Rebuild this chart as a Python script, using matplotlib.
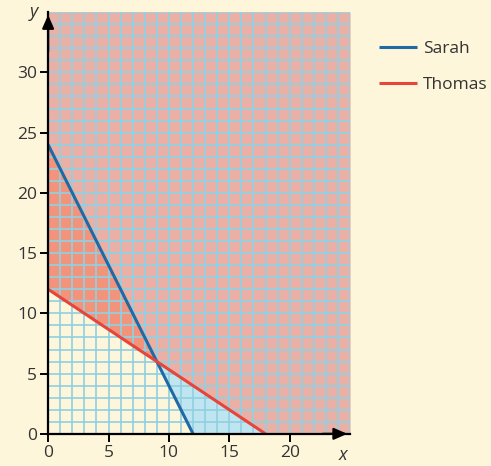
import matplotlib
matplotlib.use("Agg")
import matplotlib.pyplot as plt
import numpy as np

# Constraint lines: y = intercept + slope * x
names = ["Sarah", "Thomas"]
y_intercepts = [24, 12]
x_intercepts = [12, 18]
line_colors = ["#1f6aa5", "#e8453a"]

x_ticks = [0, 5, 10, 15, 20]
y_ticks = [0, 5, 10, 15, 20, 25, 30]
x_max, y_max = 25, 35

bg = "#fdf6da"
plt.rcParams["font.family"] = ["Open Sans", "DejaVu Sans"]

fig = plt.figure(figsize=(4.91, 4.66), dpi=100, facecolor=bg)
ax = fig.add_axes([0.098, 0.069, 0.615, 0.905], facecolor=bg)
ax.set_xlim(0, x_max)
ax.set_ylim(0, y_max)

xs = np.linspace(0, x_max, 501)
sarah = y_intercepts[0] - y_intercepts[0] / x_intercepts[0] * xs
thomas = y_intercepts[1] - y_intercepts[1] / x_intercepts[1] * xs
upper = np.maximum(np.maximum(sarah, thomas), 0)

# region above both lines
ax.fill_between(xs, upper, y_max, color="#eaafa5", lw=0, zorder=1)
# above Thomas, below Sarah
ax.fill_between(xs, np.maximum(thomas, 0), np.maximum(sarah, 0),
                where=sarah >= thomas, color="#f2937c", lw=0, zorder=1)
# above Sarah, below Thomas
ax.fill_between(xs, np.maximum(sarah, 0), np.maximum(thomas, 0),
                where=thomas >= sarah, color="#bfe5f1", lw=0, zorder=1)

# unit grid
for gx in range(1, x_max + 1):
    ax.axvline(gx, color="#92d0e2", lw=1.3, alpha=0.95, zorder=2)
for gy in range(1, y_max + 1):
    ax.axhline(gy, color="#92d0e2", lw=1.3, alpha=0.95, zorder=2)

for name, yi, xi, c in zip(names, y_intercepts, x_intercepts, line_colors):
    ax.plot([0, xi], [yi, 0], color=c, lw=2.2, zorder=4, label=name,
            solid_capstyle="butt")

for s in ["top", "right"]:
    ax.spines[s].set_visible(False)
for s in ["left", "bottom"]:
    ax.spines[s].set_linewidth(1.6)
    ax.spines[s].set_color("black")
    ax.spines[s].set_zorder(5)

ax.set_xticks(x_ticks)
ax.set_yticks(y_ticks)
ax.tick_params(direction="out", length=6, width=1.4, color="black",
               labelsize=12.5, labelcolor="#333333", pad=2)

# axis arrows
ax.annotate("", xy=(1.0, 0), xytext=(0.9, 0), xycoords="axes fraction",
            arrowprops=dict(arrowstyle="-|>,head_length=0.8,head_width=0.35",
                            color="black", lw=1.6), zorder=6,
            annotation_clip=False)
ax.annotate("", xy=(0, 1.0), xytext=(0, 0.9), xycoords="axes fraction",
            arrowprops=dict(arrowstyle="-|>,head_length=0.8,head_width=0.35",
                            color="black", lw=1.6), zorder=6,
            annotation_clip=False)

ax.text(-0.035, 1.0, "y", transform=ax.transAxes, ha="right", va="center",
        fontsize=13, style="italic", color="#333333")
ax.text(0.975, -0.03, "x", transform=ax.transAxes, ha="center", va="top",
        fontsize=13, style="italic", color="#333333")

leg = fig.legend(loc="upper left", bbox_to_anchor=(0.74, 0.945), frameon=False,
                 fontsize=12.5, handlelength=2.2, handletextpad=0.35,
                 labelspacing=1.1)
for t in leg.get_texts():
    t.set_color("#333333")

fig.savefig("out.png", dpi=100, facecolor=bg)
